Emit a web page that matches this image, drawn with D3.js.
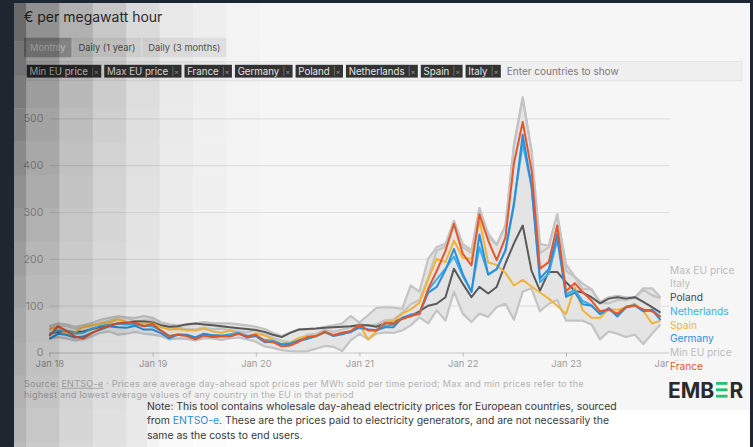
<!DOCTYPE html>
<html>
<head>
<meta charset="utf-8">
<script src="https://cdn.jsdelivr.net/npm/d3@7"></script>
<style>
  html, body { margin: 0; padding: 0; background: #1e2632; }
  svg { display: block; font-family: Inter, "Liberation Sans", Arial, sans-serif; }
</style>
</head>
<body>
<svg id="chart" width="753" height="447"></svg>
<script>
// Monthly average day-ahead prices, EUR/MWh, Jan 2018 – Dec 2023
const startYear = 2018;
const monthCount = 72;
const yearTickLabels = ["Jan 18", "Jan 19", "Jan 20", "Jan 21", "Jan 22", "Jan 23", "Jan 24"];
const yTickValues = [0, 100, 200, 300, 400, 500];

const maxEU = [
  56, 62, 60, 55, 58, 63, 70, 74, 77, 75, 74, 78,
  74, 64, 60, 58, 60, 62, 65, 62, 62, 62, 60, 58,
  55, 50, 42, 35, 42, 49, 50, 51, 55, 58, 62, 78,
  64, 80, 95, 97, 96, 93, 143, 130, 200, 225, 232, 281,
  232, 218, 308, 254, 230, 271, 442, 545, 432, 232, 228, 295,
  188, 162, 147, 135, 108, 118, 121, 118, 118, 137, 137, 118
];
const minEU = [
  29, 33, 30, 26, 28, 35, 42, 45, 38, 40, 44, 40,
  38, 35, 28, 30, 29, 26, 30, 30, 27, 30, 32, 28,
  23, 13, 10, 5, 3, 2, 3, 8, 14, 12, 3, 26,
  40, 28, 40, 43, 42, 47, 58, 75, 62, 90, 68, 130,
  83, 65, 83, 76, 97, 104, 70, 130, 137, 88, 104, 112,
  68, 68, 68, 60, 28, 45, 40, 33, 38, 18, 40, 60
];
const italy = [
  49, 57, 57, 51, 54, 57, 63, 68, 76, 74, 66, 68,
  68, 58, 53, 53, 50, 49, 53, 50, 51, 48, 45, 43,
  48, 39, 32, 25, 22, 28, 38, 40, 49, 44, 49, 54,
  61, 57, 60, 69, 70, 85, 103, 112, 159, 218, 226, 281,
  225, 212, 308, 246, 230, 271, 442, 543, 430, 212, 225, 295,
  175, 161, 136, 135, 106, 105, 112, 112, 116, 134, 122, 116
];
const poland = [
  40, 44, 46, 43, 45, 50, 55, 58, 62, 64, 66, 66,
  64, 58, 55, 56, 60, 62, 60, 58, 56, 54, 52, 50,
  48, 44, 38, 33, 42, 49, 50, 51, 53, 54, 55, 56,
  58, 58, 55, 62, 66, 72, 78, 88, 100, 104, 118, 179,
  147, 118, 140, 126, 140, 190, 233, 271, 175, 132, 172, 172,
  150, 132, 128, 118, 105, 115, 118, 115, 118, 108, 97, 85
];
const spain = [
  50, 55, 40, 43, 55, 58, 62, 64, 71, 65, 62, 62,
  62, 54, 49, 50, 48, 47, 51, 45, 42, 47, 42, 34,
  41, 36, 28, 18, 21, 31, 35, 36, 42, 37, 42, 42,
  60, 28, 45, 65, 67, 83, 92, 106, 156, 200, 193, 239,
  202, 200, 283, 192, 187, 170, 143, 155, 141, 128, 115, 100,
  82, 140, 90, 74, 74, 93, 91, 96, 104, 89, 62, 68
];
const netherlands = [
  38, 47, 47, 40, 42, 51, 57, 59, 62, 60, 60, 57,
  56, 46, 35, 39, 37, 32, 37, 37, 36, 39, 42, 36,
  36, 27, 25, 18, 20, 25, 29, 35, 43, 37, 42, 44,
  54, 49, 48, 57, 59, 74, 79, 84, 133, 156, 179, 205,
  163, 131, 225, 167, 178, 218, 320, 445, 355, 150, 168, 240,
  124, 134, 110, 101, 82, 92, 80, 98, 101, 88, 92, 76
];
const germany = [
  29, 40, 38, 32, 34, 42, 49, 56, 54, 53, 57, 49,
  49, 41, 30, 38, 38, 32, 40, 37, 36, 35, 41, 32,
  35, 22, 23, 17, 18, 26, 30, 35, 44, 35, 39, 44,
  53, 49, 47, 54, 54, 74, 81, 83, 128, 140, 176, 221,
  168, 129, 252, 166, 178, 218, 315, 465, 356, 158, 178, 253,
  119, 128, 103, 100, 82, 95, 77, 96, 101, 88, 91, 69
];
const france = [
  35, 56, 47, 34, 30, 42, 51, 57, 62, 64, 63, 56,
  61, 46, 35, 38, 35, 28, 36, 33, 34, 34, 40, 34,
  38, 24, 22, 13, 15, 23, 33, 35, 45, 37, 42, 46,
  59, 47, 47, 63, 61, 72, 78, 82, 136, 174, 217, 275,
  211, 186, 295, 239, 197, 246, 404, 492, 390, 179, 193, 271,
  131, 148, 129, 111, 88, 92, 83, 97, 100, 92, 88, 76
];

const periodButtons = ["Monthly", "Daily (1 year)", "Daily (3 months)"];
const selectedTags = ["Min EU price", "Max EU price", "France", "Germany", "Poland", "Netherlands", "Spain", "Italy"];

const months = d3.range(monthCount).map(i => new Date(startYear, i, 1));

// series drawn as lines, bottom to top
const lineSeries = [
  { name: "Max EU price", values: maxEU, color: "#c4c4c4" },
  { name: "Min EU price", values: minEU, color: "#c4c4c4" },
  { name: "Italy", values: italy, color: "#c4c4c4" },
  { name: "Poland", values: poland, color: "#5a5a5a" },
  { name: "Spain", values: spain, color: "#f1b436" },
  { name: "Netherlands", values: netherlands, color: "#3aaee8" },
  { name: "Germany", values: germany, color: "#2b8edc" },
  { name: "France", values: france, color: "#e5562b" }
];
const legendOrder = [
  ["Max EU price", "#bcbcbc"], ["Italy", "#bcbcbc"], ["Poland", "#444444"],
  ["Netherlands", "#3aaee8"], ["Spain", "#f1b436"], ["Germany", "#2b8edc"],
  ["Min EU price", "#bcbcbc"], ["France", "#e5562b"]
];

const W = 753, H = 447;
const svg = d3.select("#chart");

// ---- page panels
svg.append("rect").attr("width", W).attr("height", H).attr("fill", "#1e2632");
svg.append("rect").attr("x", 14).attr("y", 3).attr("width", 736).attr("height", 407).attr("fill", "#f6f6f6");
svg.append("rect").attr("x", 14).attr("y", 410).attr("width", 133).attr("height", 37).attr("fill", "#f6f6f6");
svg.append("rect").attr("x", 147).attr("y", 410).attr("width", 603).attr("height", 37).attr("fill", "#ffffff");

// ---- subtitle
svg.append("text").attr("x", 24).attr("y", 21.5)
  .attr("fill", "#333").style("font-size", "14px")
  .text("€ per megawatt hour");

// ---- period buttons
let bx = 24;
periodButtons.forEach((label, i) => {
  const grp = svg.append("g");
  const t = grp.append("text").attr("y", 50.8).style("font-size", "9.3px")
    .attr("fill", i === 0 ? "#f4f4f4" : "#555").text(label);
  const tw = t.node().getComputedTextLength();
  const w = tw + 12;
  grp.insert("rect", "text").attr("x", bx).attr("y", 37.7).attr("width", w).attr("height", 19.6)
    .attr("fill", i === 0 ? "#b2b2b2" : "#e6e6e6");
  t.attr("x", bx + 6);
  bx += w + 1;
});

// ---- country tag bar
svg.append("rect").attr("x", 26).attr("y", 61.7).attr("width", 716).attr("height", 19)
  .attr("fill", "#efefef").attr("stroke", "#e0e0e0").attr("stroke-width", 0.8);
let tx = 26.7;
selectedTags.forEach(label => {
  const grp = svg.append("g");
  const t = grp.append("text").attr("x", tx + 2.7).attr("y", 74.6)
    .style("font-size", "9.7px").attr("fill", "#e4e4e4").text(label);
  const tw = t.node().getComputedTextLength();
  const w = tw + 16;
  grp.insert("rect", "text").attr("x", tx).attr("y", 64.8).attr("width", w).attr("height", 12.8)
    .attr("fill", "#333333");
  grp.append("text").attr("x", tx + tw + 6).attr("y", 74.2).style("font-size", "8px")
    .attr("fill", "#8a8a8a").text("|");
  grp.append("text").attr("x", tx + tw + 8.8).attr("y", 73.8).style("font-size", "7px")
    .attr("fill", "#9a9a9a").text("×");
  tx += w + 3;
});
svg.append("text").attr("x", tx + 3).attr("y", 74.6).style("font-size", "10px")
  .attr("fill", "#7a7a7a").text("Enter countries to show");

// ---- chart
const x = d3.scaleTime()
  .domain([new Date(startYear, 0, 1), new Date(startYear + 6, 0, 1)])
  .range([49.3, 669.3]);
const y = d3.scaleLinear().domain([0, 500]).range([352.5, 118.3]);

const chart = svg.append("g");

chart.append("g")
  .attr("transform", `translate(${x.range()[0]},0)`)
  .call(d3.axisLeft(y).tickValues(yTickValues).tickSize(-(x.range()[1] - x.range()[0])).tickPadding(6))
  .call(a => {
    a.select(".domain").remove();
    a.selectAll("line").attr("stroke", "#e1e1e1").attr("stroke-width", 1.2);
    a.selectAll("text").attr("fill", "#a9a9a9").style("font-size", "10.5px")
      .style("font-family", "Inter, sans-serif");
  });

// min–max envelope
chart.append("path")
  .datum(months)
  .attr("fill", "#e4e4e4")
  .attr("d", d3.area()
    .x((d, i) => x(d))
    .y0((d, i) => y(minEU[i]))
    .y1((d, i) => y(maxEU[i])));

const line = vals => d3.line().x((d, i) => x(months[i])).y(d => y(d))(vals);
chart.selectAll("path.series")
  .data(lineSeries)
  .join("path")
  .attr("class", "series")
  .attr("fill", "none")
  .attr("stroke", d => d.color)
  .attr("stroke-width", d => d.color === "#c4c4c4" ? 2.2 : 2)
  .attr("stroke-linejoin", "round")
  .attr("d", d => line(d.values));

chart.append("g")
  .attr("transform", `translate(0,${y(0)})`)
  .call(d3.axisBottom(x)
    .tickValues(d3.range(yearTickLabels.length).map(k => new Date(startYear + k, 0, 1)))
    .tickFormat((d, i) => yearTickLabels[i])
    .tickSize(4).tickSizeOuter(0).tickPadding(4))
  .call(a => {
    a.select(".domain").attr("stroke", "#cfcfcf").attr("stroke-width", 1.2);
    a.selectAll("line").attr("stroke", "#bdbdbd");
    a.selectAll("text").attr("fill", "#9c9c9c").style("font-size", "9.4px")
      .style("font-family", "Inter, sans-serif");
  });

// ---- legend
const legend = svg.append("g");
legendOrder.forEach(([label, color], i) => {
  const cy = 270 + 13.7 * i;
  const grp = legend.append("g");
  const t = grp.append("text").attr("x", 670).attr("y", cy + 3.7)
    .style("font-size", "10.2px").attr("fill", color).text(label);
  const tw = t.node().getComputedTextLength();
  grp.insert("rect", "text").attr("x", 669).attr("y", cy - 5.5).attr("width", tw + 2).attr("height", 11)
    .attr("fill", "#f6f6f6");
});

// ---- source text
const src1 = svg.append("text").attr("x", 24).attr("y", 386.8)
  .style("font-size", "9.1px").style("letter-spacing", "0.22px").attr("fill", "#b3b3b3");
src1.append("tspan").text("Source: ");
src1.append("tspan").attr("text-decoration", "underline").text("ENTSO-e");
src1.append("tspan").text(" · Prices are average day-ahead spot prices per MWh sold per time period; Max and min prices refer to the");
svg.append("text").attr("x", 24).attr("y", 397.8)
  .style("font-size", "9.1px").style("letter-spacing", "0.22px").attr("fill", "#b3b3b3")
  .text("highest and lowest average values of any country in the EU in that period");

// ---- logo
const logo = svg.append("g");
const lt1 = logo.append("text").attr("x", 668).attr("y", 397.5).style("font-size", "21px")
  .style("font-weight", 700).attr("fill", "#2a2a2a").text("EMB");
const w1 = lt1.node().getComputedTextLength();
const ex = 668 + w1 + 1.8;
[0, 1, 2].forEach(k => {
  logo.append("rect").attr("x", ex).attr("y", 382 + k * 6.4).attr("width", 11.5).attr("height", 2.8)
    .attr("fill", "#25c26e");
});
logo.append("text").attr("x", ex + 13.6).attr("y", 397.5).style("font-size", "21px")
  .style("font-weight", 700).attr("fill", "#2a2a2a").text("R");

// ---- note
const note = svg.append("g").style("font-size", "10.4px").attr("fill", "#3a3a3a");
note.append("text").attr("x", 147).attr("y", 409.6)
  .text("Note: This tool contains wholesale day-ahead electricity prices for European countries, sourced");
const n2 = note.append("text").attr("x", 147).attr("y", 424.4);
n2.append("tspan").text("from ");
n2.append("tspan").attr("fill", "#2f8fdd").text("ENTSO-e");
n2.append("tspan").text(". These are the prices paid to electricity generators, and are not necessarily the");
note.append("text").attr("x", 147).attr("y", 439).text("same as the costs to end users.");

// ---- stepped shading along the left edge
const colAlpha = [0.57, 0.41, 0.28, 0.19, 0.11, 0.055, 0.03, 0.012];
const shade = svg.append("g");
colAlpha.forEach((a, c) => {
  const x0 = c === 0 ? 14 : 26 + 33.4 * (c - 1);
  const w = c === 0 ? 12 : 33.4;
  d3.range(14).forEach(r => {
    const y0 = r === 0 ? 0 : 8.3 + 33.35 * r;
    const h = r === 0 ? 41.65 : 33.35;
    shade.append("rect").attr("x", x0).attr("y", y0).attr("width", w + 0.05).attr("height", h + 0.05)
      .attr("fill", "#000").attr("fill-opacity", a * Math.exp(-0.065 * r));
  });
});

// ---- dark frame edges
svg.append("rect").attr("x", 0).attr("y", 0).attr("width", 14).attr("height", H).attr("fill", "#1e2632");
svg.append("rect").attr("x", 0).attr("y", 0).attr("width", W).attr("height", 3).attr("fill", "#1e2632");
svg.append("rect").attr("x", 750).attr("y", 0).attr("width", 3).attr("height", H).attr("fill", "#1e2632");
</script>
</body>
</html>
